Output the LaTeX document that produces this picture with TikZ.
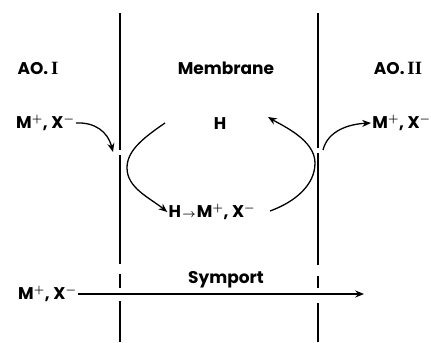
\documentclass[tikz,border=0pt]{standalone}
\usepackage{fontspec}
\setmainfont{Poppins}
\newfontfamily\numfont{Liberation Serif}
\usetikzlibrary{arrows.meta}

\begin{document}
\begin{tikzpicture}[x=0.03cm,y=-0.03cm,>={Stealth[length=7.5pt,width=6pt]},
    lbl/.style={font=\fontsize{14.5}{16}\selectfont\bfseries\boldmath,inner sep=1pt},
    wall/.style={line width=1.1pt},
    flow/.style={->,line width=1.1pt}]
  \useasboundingbox (0,0) rectangle (431,342);
  % the two faces of the membrane, broken where the ions pass
  \foreach \xw/\ya/\yb in {120/13/150,120/155/264,120/274/288,120/301/342,
                           318/13/148,318/153/265,318/276/288,318/303/342}
    \draw[wall] (\xw,\ya) -- (\xw,\yb);
  \node[lbl] (ao1) at (38,68) {AO.\,{\numfont\fontsize{16}{16}\selectfont\bfseries I}};
  \node[lbl] (memb) at (226,68) {Membrane};
  \node[lbl] (ao2) at (398,68) {AO.\,{\numfont\fontsize{16}{16}\selectfont\bfseries II}};
  \node[lbl,anchor=east] (inL) at (76,123) {M$^+$, X$^-$};
  \node[lbl] (carrier) at (220,124) {H};
  \node[lbl,anchor=west] (outR) at (371,123) {M$^+$, X$^-$};
  \node[lbl] (cplx) at (212,212) {H\kern1pt$\scriptstyle\rightarrow$\kern1pt M$^+$, X$^-$};
  \node[lbl] (sym) at (226,280) {Symport};
  \node[lbl,anchor=east] (inB) at (78,294) {M$^+$, X$^-$};
  \coordinate (gapL) at (113,152);
  \coordinate (hFrom) at (165,123);
  \coordinate (hTo) at (268,117);
  \coordinate (cFrom) at (270,211);
  \coordinate (gapR) at (323,150);
  \coordinate (symEnd) at (364,294);
  \draw[flow] (inL.east) .. controls (95,122) and (108,132) .. (gapL);
  \draw[flow] (hFrom) .. controls (140,140) and (127,152) .. (127,168)
     .. controls (127,188) and (150,198) .. (cplx.west);
  \draw[flow] (cFrom) .. controls (295,202) and (315,185) .. (315,163)
     .. controls (315,140) and (283,126) .. (hTo);
  \draw[flow] (gapR) .. controls (328,130) and (350,124) .. (outR.west);
  \draw[flow] (inB.east) -- (symEnd);
\end{tikzpicture}
\end{document}
